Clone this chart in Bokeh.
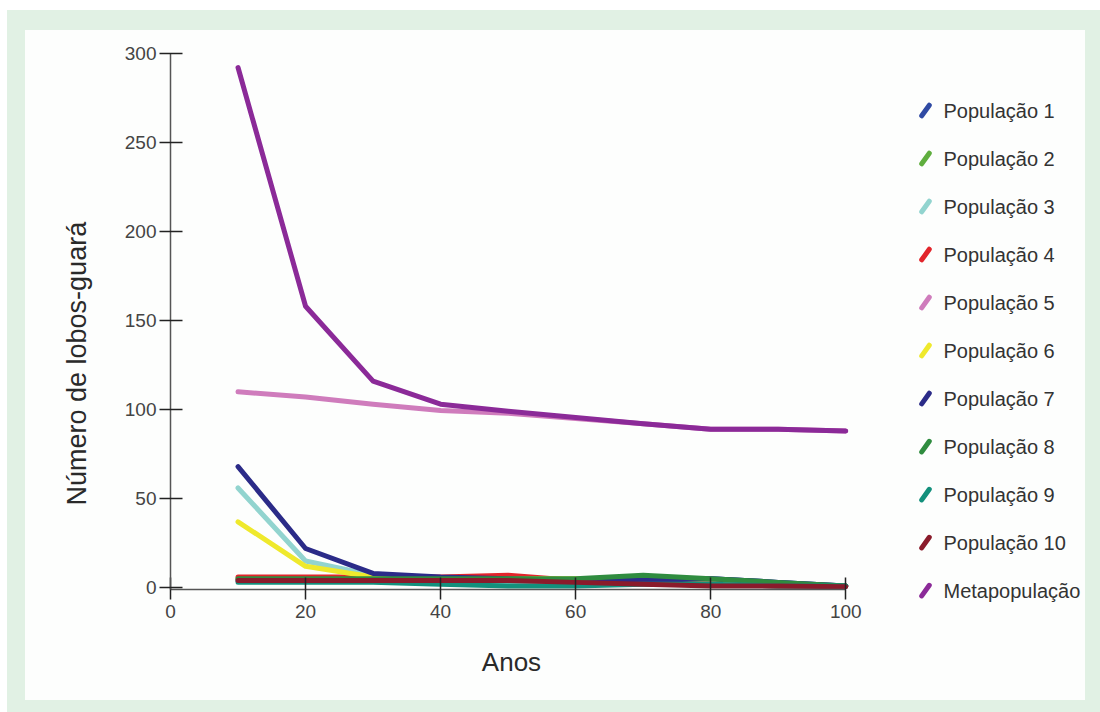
import math
from bokeh.plotting import figure
from bokeh.models import Title, Range1d, FixedTicker, Row, Column, ColumnDataSource
from bokeh.core.properties import value
from bokeh.embed import file_html
from bokeh.resources import INLINE

anos = [10, 20, 30, 40, 50, 60, 70, 80, 90, 100]

pop1 = [4, 4, 4, 4, 4, 3, 3, 5, 3, 1]
pop2 = [5, 5, 5, 5, 5, 4, 5, 4, 2, 1]
pop3 = [56, 15, 7, 4, 3, 2, 2, 2, 1, 1]
pop4 = [6, 6, 6, 6, 7, 4, 3, 2, 1, 1]
pop5 = [110, 107, 103, 99.5, 98, 95, 92, 89, 89, 88]
pop6 = [37, 12, 6, 5, 5, 5, 4, 3, 2, 1]
pop7 = [68, 22, 8, 6, 5, 4, 4, 5, 3, 1]
pop8 = [5, 5, 5, 5, 5, 5, 7, 5, 3, 1]
pop9 = [3, 3, 3, 2, 1, 1, 2, 2, 1, 1]
pop10 = [4, 4, 4, 4, 4, 3, 2, 1, 1, 0.5]
meta = [292, 158, 116, 103, 99, 95.5, 92, 89, 89, 88]

nomes = ["População 1", "População 2", "População 3", "População 4", "População 5",
         "População 6", "População 7", "População 8", "População 9", "População 10",
         "Metapopulação"]
series = [pop1, pop2, pop3, pop4, pop5, pop6, pop7, pop8, pop9, pop10, meta]
cores = ["#2f4aa3", "#5fae3e", "#92d4cf", "#e2252b", "#cf7cbc", "#efe92c",
         "#2b2b88", "#2f8c3f", "#13907c", "#8a1b2b", "#8b2a98"]

x_ticks = [0, 20, 40, 60, 80, 100]
y_ticks = [0, 50, 100, 150, 200, 250, 300]

PANEL = "#fdfefd"
GREEN = "#e1f1e4"

p = figure(width=870, height=670, output_backend="svg", toolbar_location=None,
           x_range=Range1d(0, 101), y_range=Range1d(-1, 301),
           min_border_left=145, min_border_right=43, min_border_top=21, min_border_bottom=111,
           background_fill_color=PANEL, background_fill_alpha=0,
           border_fill_color=PANEL, outline_line_color=None)
p.frame_align = False
p.grid.visible = False

xa = p.xaxis[0]
xa.ticker = FixedTicker(ticks=x_ticks)
xa.bounds = (0, 100)
xa.axis_line_color = "#555555"
xa.axis_line_width = 1.5
xa.major_tick_line_color = "#222222"
xa.major_tick_line_width = 1.5
xa.major_tick_in = 12
xa.major_tick_out = 10
xa.minor_tick_line_color = None
xa.major_label_text_font = "Liberation Sans"
xa.major_label_text_font_size = "19px"
xa.major_label_text_color = "#444444"
xa.major_label_standoff = 5
xa.axis_label = "Anos"
xa.axis_label_text_font = "Liberation Sans"
xa.axis_label_text_font_size = "26px"
xa.axis_label_text_font_style = "normal"
xa.axis_label_text_color = "#2a2a2a"
xa.axis_label_standoff = 26

ya = p.yaxis[0]
ya.ticker = FixedTicker(ticks=y_ticks)
ya.bounds = (-1, 300)
ya.axis_line_color = "#555555"
ya.axis_line_width = 1.5
ya.major_tick_line_color = "#222222"
ya.major_tick_line_width = 1.5
ya.major_tick_in = 12
ya.major_tick_out = 11
ya.minor_tick_line_color = None
ya.major_label_text_font = "Liberation Sans"
ya.major_label_text_font_size = "19px"
ya.major_label_text_color = "#444444"
ya.major_label_standoff = 3

p.add_layout(Title(text="Número de lobos-guará", align="left", offset=84, standoff=59,
                   text_font="Liberation Sans", text_font_size="27px",
                   text_font_style="normal", text_color="#2a2a2a"), "left")

for vals, cor in zip(series, cores):
    p.line(anos, vals, line_width=5, line_color=cor, line_join="round", line_cap="round")

# legend panel (one row per series, drawn from the names and colours)
leg = ColumnDataSource(data=dict(idx=list(range(len(nomes))), nome=nomes, cor=cores))
pl = figure(width=190, height=670, output_backend="svg", toolbar_location=None,
            x_range=Range1d(0, 190), y_range=Range1d(12.29, -1.667),
            min_border=0, x_axis_location=None, y_axis_location=None,
            background_fill_color=PANEL, background_fill_alpha=0,
            border_fill_color=PANEL, border_fill_alpha=0, outline_line_color=None)
pl.frame_align = False
pl.grid.visible = False
pl.scatter(x=30, y="idx", source=leg, marker="dash", size=13, angle=0.95,
           line_color="cor", line_width=5, line_cap="round")
pl.text(x=48, y="idx", text="nome", source=leg, text_baseline="middle", text_align="left",
        text_font=value("Liberation Sans"), text_font_size="20px", text_color="#333333")

inner = Row(children=[p, pl], margin=(20, 15, 12, 18),
            styles={"background-color": PANEL})
outer = Column(children=[inner], margin=(10, 0, 0, 7),
               styles={"background-color": GREEN})

open("out.html", "w").write(file_html(outer, INLINE))
